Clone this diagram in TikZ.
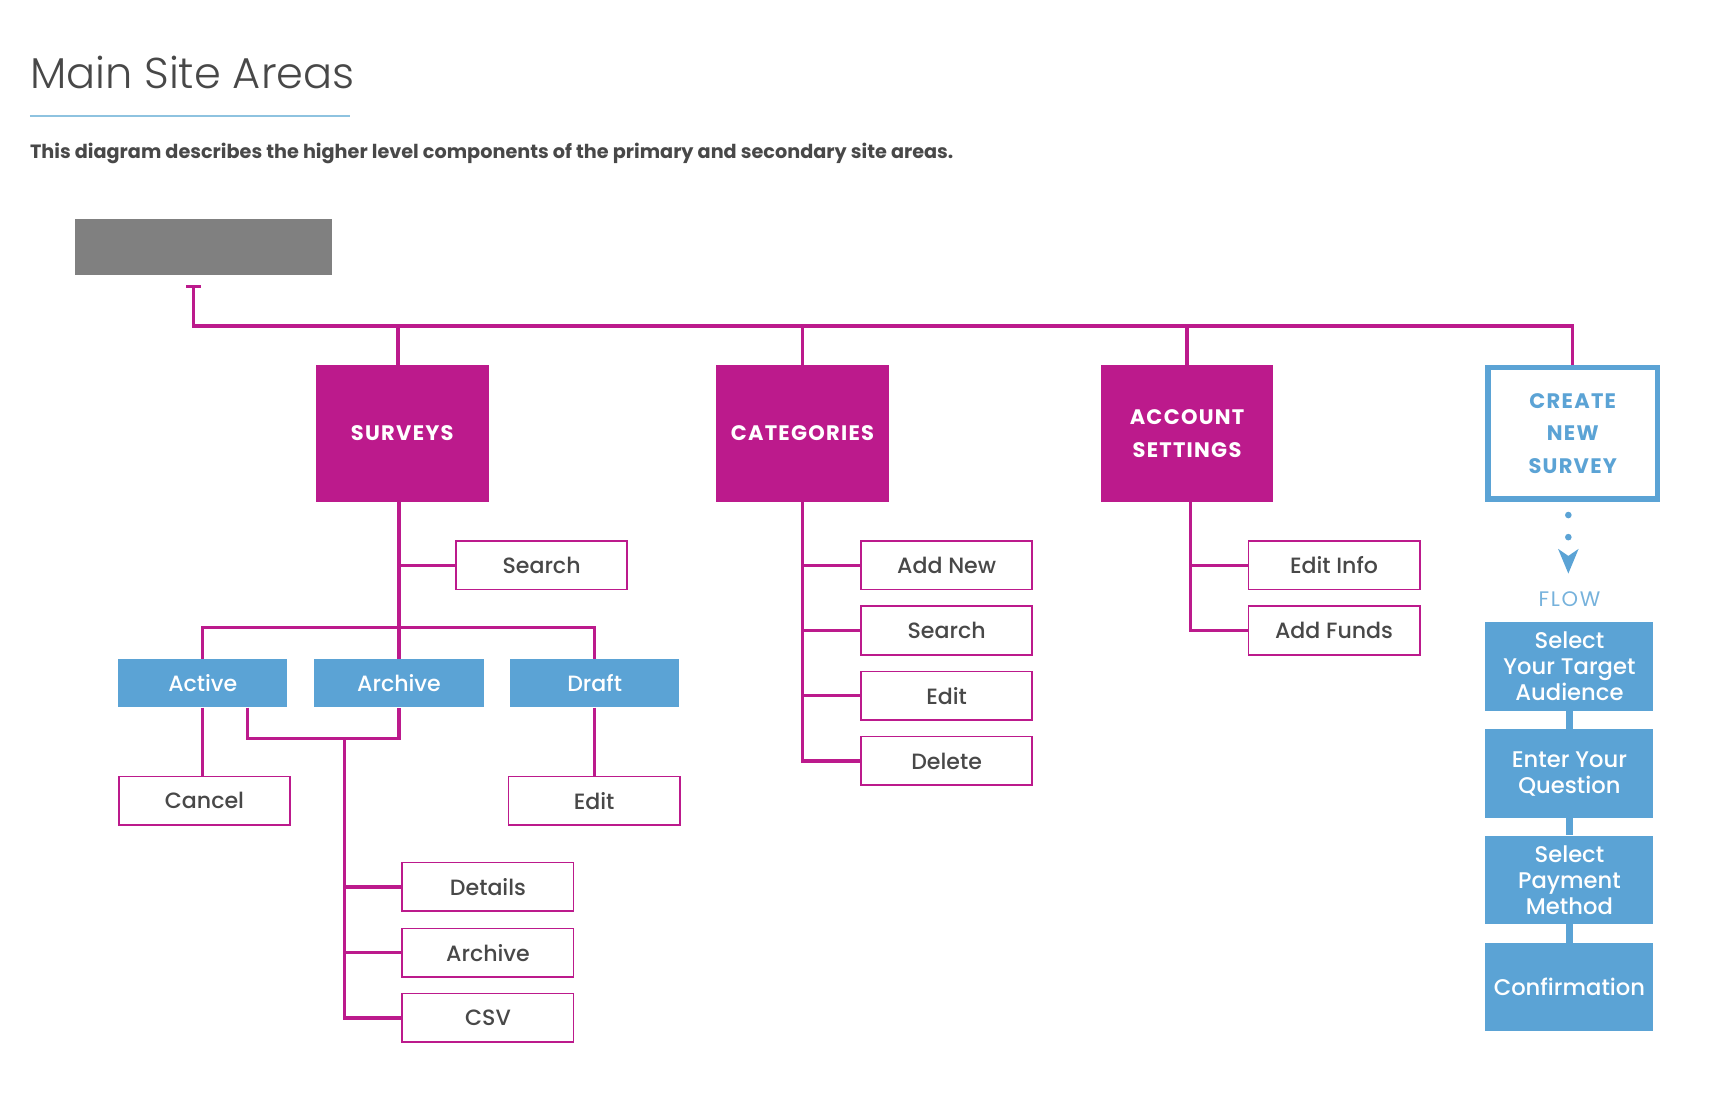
\documentclass[tikz,border=0pt]{standalone}
\usepackage{fontspec}
\setmainfont{Poppins}
\newfontfamily\lightfont{Poppins Light}
\newfontfamily\mediumfont{Poppins Medium}
\newfontfamily\capsfont{Poppins}[LetterSpace=6]
\newfontfamily\flowfont{Poppins}[LetterSpace=8]
\usetikzlibrary{arrows.meta}

\begin{document}
\begin{tikzpicture}[x=1pt,y=-1pt,
	area/.style={fill=MAGENTA, minimum width=156pt, minimum height=124pt, inner sep=0pt, text=white, align=center, font=\capsfont\bfseries\fontsize{19}{30}\selectfont},
	leaf/.style={draw=MAGENTA, line width=1.5pt, fill=white, minimum width=155pt, minimum height=44pt, inner sep=0pt, text=TEXTGRAY, font=\mediumfont\fontsize{20}{24}\selectfont},
	status/.style={fill=BLUE, minimum width=153pt, minimum height=44pt, inner sep=0pt, text=white, font=\mediumfont\fontsize{20}{24}\selectfont},
	flowstep/.style={fill=BLUE, minimum width=152pt, minimum height=80pt, inner sep=0pt, text=white, align=center, font=\mediumfont\fontsize{20.5}{23.5}\selectfont},
	link/.style={MAGENTA, line width=3pt},
	steplink/.style={BLUE, line width=6pt}]
	\definecolor{MAGENTA}{RGB}{188,26,140}
	\definecolor{BLUE}{RGB}{91,163,213}
	\definecolor{PALEBLUE}{RGB}{142,195,224}
	\definecolor{FLOWBLUE}{RGB}{118,178,220}
	\definecolor{GREY}{RGB}{128,128,128}
	\definecolor{TEXTGRAY}{RGB}{72,72,72}
	\useasboundingbox (0,0) rectangle (1568,991);
	\node[anchor=base west, inner sep=0pt, text=TEXTGRAY, font=\lightfont\fontsize{39}{42}\selectfont]
	(title) at (27,80) {Main Site Areas};
	\draw[PALEBLUE, line width=1.2pt]
	(27,105) -- (317,105);
	\node[anchor=base west, inner sep=0pt, text=TEXTGRAY, font=\bfseries\fontsize{17.4}{20}\selectfont]
	(intro) at (27,143) {This diagram describes the higher level components of the primary and secondary site areas.};
	\node[fill=GREY, minimum width=232pt, minimum height=51pt, inner sep=0pt]
	(home) at (184,223.5) {};
	\node[area] (surveys) at (364,392) {SURVEYS};
	\node[area] (categories) at (726,392) {CATEGORIES};
	\node[area] (account) at (1074,392) {ACCOUNT\\SETTINGS};
	\node[draw=BLUE, line width=5pt, fill=white, minimum width=153pt, minimum height=119pt, inner sep=0pt, text=BLUE, align=center, font=\capsfont\bfseries\fontsize{19}{29.5}\selectfont]
	(create) at (1423,392) {CREATE\\NEW\\SURVEY};
	\coordinate (tee) at (175,258);
	\coordinate (bus) at (175,295);
	\draw[link, {Bar[width=13pt,length=0pt]}-]
	(tee) -- (bus) -| (create.north);
	\draw[link] ([xshift=-4pt]surveys.north) -- ([xshift=-4pt]surveys.north |- bus);
	\draw[link] (categories.north) -- (categories.north |- bus);
	\draw[link] (account.north) -- (account.north |- bus);
	\node[leaf] (search) at (490,511.5) {Search};
	\node[status] (active) at (183.5,618) {Active};
	\node[status] (archive) at (361,618) {Archive};
	\node[status] (draft) at (538,618) {Draft};
	\coordinate (sbus) at (361,568);
	\draw[link] (archive.north |- surveys.south) -- (archive.north);
	\draw[link] (archive.north |- search.west) -- (search.west);
	\draw[link] (active.north) |- (sbus) -| (draft.north);
	\node[leaf] (cancel) at (185,724.5) {Cancel};
	\node[leaf] (sedit) at (537.5,724.5) {Edit};
	\draw[link] (active.south) -- (active.south |- cancel.north);
	\draw[link] (draft.south) -- (draft.south |- sedit.north);
	\node[leaf] (details) at (441.5,802.5) {Details};
	\node[leaf] (sarchive) at (441.5,862) {Archive};
	\node[leaf] (csv) at (441.5,921) {CSV};
	\coordinate (merge) at (312,668);
	\draw[link] ([xshift=40.5pt]active.south) |- (merge) -| (archive.south);
	\draw[link] (merge) |- (csv.west);
	\draw[link] (merge |- details.west) -- (details.west);
	\draw[link] (merge |- sarchive.west) -- (sarchive.west);
	\node[leaf] (addnew) at (856.5,511.5) {Add New};
	\node[leaf] (csearch) at (856.5,570.5) {Search};
	\node[leaf] (cedit) at (856.5,629.5) {Edit};
	\node[leaf] (delete) at (856.5,688.5) {Delete};
	\draw[link] (categories.south) |- (delete.west);
	\draw[link] (categories.south |- addnew.west) -- (addnew.west);
	\draw[link] (categories.south |- csearch.west) -- (csearch.west);
	\draw[link] (categories.south |- cedit.west) -- (cedit.west);
	\node[leaf] (editinfo) at (1207,511.5) {Edit Info};
	\node[leaf] (addfunds) at (1207,570.5) {Add Funds};
	\draw[link] ([xshift=3pt]account.south) |- (addfunds.west);
	\draw[link] ([xshift=3pt]account.south |- editinfo.west) -- (editinfo.west);
	\node[text=FLOWBLUE, inner sep=0pt, font=\flowfont\fontsize{19}{20}\selectfont]
	(flow) at (1420,542) {FLOW};
	\coordinate (flowtip) at (1419,519);
	\draw[BLUE, line width=6pt, line cap=round, dash pattern=on 0pt off 20pt, -{Stealth[length=22pt,width=18pt,inset=6pt]}]
	(1419,466) -- (flowtip);
	\node[flowstep] (target) at (1420,603) {Select\\Your Target\\Audience};
	\node[flowstep] (question) at (1420,700) {Enter Your\\Question};
	\node[flowstep] (payment) at (1420,796) {Select\\Payment\\Method};
	\node[flowstep] (confirm) at (1420,893) {Confirmation};
	\draw[steplink] (target.south) -- (question.north);
	\draw[steplink] (question.south) -- (payment.north);
	\draw[steplink] (payment.south) -- (confirm.north);
\end{tikzpicture}
\end{document}
